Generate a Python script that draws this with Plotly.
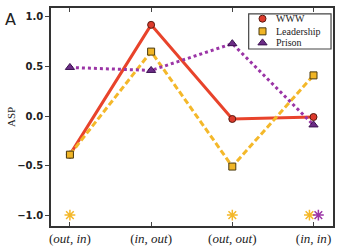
import plotly.graph_objects as go

categories = ["(out,in)", "(in,out)", "(out,out)", "(in,in)"]
tick_labels = ["(<i>out</i>, <i>in</i>)", "(<i>in</i>, <i>out</i>)",
               "(<i>out</i>, <i>out</i>)", "(<i>in</i>, <i>in</i>)"]
series_names = ["WWW", "Leadership", "Prison"]
www = [-0.39, 0.92, -0.03, -0.01]
leadership = [-0.39, 0.65, -0.51, 0.41]
prison = [0.49, 0.46, 0.73, -0.09]
star_orange_x = [0, 2, 2.95]
star_orange_y = [-1.0, -1.0, -1.0]
star_purple_x = [3.06]
star_purple_y = [-1.0]

xs = list(range(len(categories)))
RED = "#e8432b"
ORANGE = "#f4b82a"
PURPLE = "#9b35a6"

m_www = dict(symbol="circle", size=7, color="#dd3a2c", line=dict(color="#5a1a10", width=1))
m_lead = dict(symbol="square", size=7, color="#f0b526", line=dict(color="#4a3a10", width=1))
m_pris = dict(symbol="triangle-up", size=8, color="#6c2c86", line=dict(color="#3a1050", width=1))

fig = go.Figure()
fig.add_trace(go.Scatter(x=xs, y=www, name=series_names[0], mode="lines+markers",
    line=dict(color=RED, width=3), marker=m_www, showlegend=False))
fig.add_trace(go.Scatter(x=xs, y=leadership, name=series_names[1], mode="lines+markers",
    line=dict(color=ORANGE, width=3, dash="6px,3px"), marker=m_lead, showlegend=False))
fig.add_trace(go.Scatter(x=xs, y=prison, name=series_names[2], mode="lines+markers",
    line=dict(color=PURPLE, width=3, dash="dot"), marker=m_pris, showlegend=False))
fig.add_trace(go.Scatter(x=star_orange_x, y=star_orange_y, mode="markers", showlegend=False,
    marker=dict(symbol="asterisk", size=9, color=ORANGE, line=dict(color=ORANGE, width=1.5))))
fig.add_trace(go.Scatter(x=star_purple_x, y=star_purple_y, mode="markers", showlegend=False,
    marker=dict(symbol="asterisk", size=9, color=PURPLE, line=dict(color=PURPLE, width=1.5))))

# compact legend drawn on an overlay axis in [0,1] plot-fraction units
leg_x0, leg_x1, leg_y0, leg_y1 = 0.701, 0.993, 0.812, 0.973
leg_mx, leg_tx = 0.75, 0.79
leg_rows = [0.951, 0.893, 0.840]
fig.add_shape(type="rect", xref="paper", yref="paper", x0=leg_x0, x1=leg_x1,
              y0=leg_y0, y1=leg_y1, line=dict(color="#444", width=1.2), fillcolor="white",
              layer="below")
for nm, mk, ry in zip(series_names, [m_www, m_lead, m_pris], leg_rows):
    fig.add_trace(go.Scatter(x=[leg_mx], y=[ry], mode="markers", marker=mk, showlegend=False,
                             xaxis="x2", yaxis="y2", cliponaxis=False, hoverinfo="skip"))
    fig.add_annotation(text=nm, x=leg_tx, y=ry, xref="paper", yref="paper", showarrow=False,
                       xanchor="left", yanchor="middle",
                       font=dict(family="Liberation Serif", size=10, color="#222"))

fig.update_layout(
    width=341, height=252,
    margin=dict(l=51, r=6, t=6, b=23),
    paper_bgcolor="white", plot_bgcolor="white",
    font=dict(family="DejaVu Sans", color="#222"),
    showlegend=False,
    xaxis2=dict(overlaying="x", range=[0, 1], visible=False),
    yaxis2=dict(overlaying="y", range=[0, 1], visible=False),
)
fig.add_annotation(text="A", x=-0.17, y=1.0, xref="paper", yref="paper", showarrow=False,
                   xanchor="left", yanchor="top", font=dict(size=16, family="DejaVu Sans", color="#222"))
fig.add_annotation(text="ASP", x=-0.17, y=0.5, xref="paper", yref="paper", showarrow=False,
                   textangle=-90, font=dict(size=11, family="Liberation Serif", color="#222"))
fig.layout.xaxis.update(range=[-0.233, 3.24], tickvals=xs, ticktext=tick_labels,
                 ticks="inside", ticklen=4, mirror="ticks", showline=True,
                 linecolor="#333", linewidth=1.5, showgrid=False, zeroline=False,
                 tickfont=dict(family="Liberation Serif", size=13, color="#222"))
fig.layout.yaxis.update(range=[-1.11, 1.09], tickvals=[-1.0, -0.5, 0.0, 0.5, 1.0],
                 ticktext=["\u22121.0", "\u22120.5", "0.0", "0.5", "1.0"],
                 ticks="outside", ticklen=4, mirror=True, showline=True,
                 linecolor="#333", linewidth=1.5, showgrid=False, zeroline=False,
                 tickfont=dict(family="DejaVu Sans", size=10, color="#222", weight=600))
fig.write_html("out.html")
